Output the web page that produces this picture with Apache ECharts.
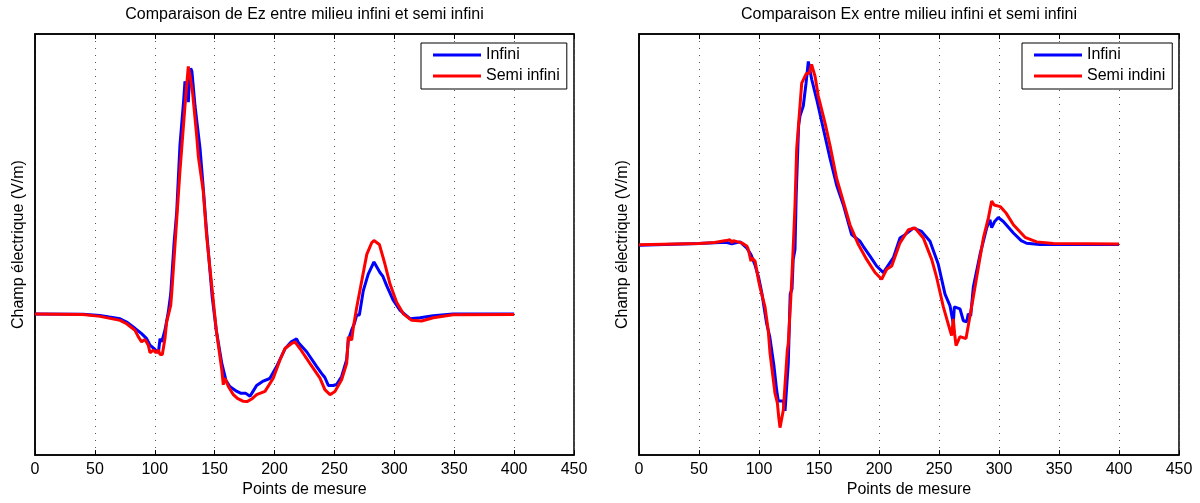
<!DOCTYPE html>
<html>
<head>
<meta charset="utf-8">
<script src="https://cdn.jsdelivr.net/npm/echarts@6/dist/echarts.min.js"></script>
<style>
html,body{margin:0;padding:0;background:#fff;}
#main{width:1200px;height:503px;}
</style>
</head>
<body>
<div id="main"></div>
<script>
// ---- Data (arbitrary units, no y tick labels in the original) ----
const xTicks = [0, 50, 100, 150, 200, 250, 300, 350, 400, 450];

const titleEz = 'Comparaison de Ez entre milieu infini et semi infini';
const titleEx = 'Comparaison Ex entre milieu infini et semi infini';
const xAxisName = 'Points de mesure';
const yAxisName = 'Champ électrique (V/m)';
const legendEz = ['Infini', 'Semi infini'];
const legendEx = ['Infini', 'Semi indini'];

// Ez, milieu infini
const ezInfiniX = [0,40,54,62,71,76.5,82,89,93.2,96,100.2,103,104.4,105.8,108.5,111.3,113.3,116,118.3,121,124.2,125.2,126.5,128,129,130,131,133.6,137.8,140.5,142.8,148,151.4,156,159.4,162.6,168.6,172,176,179.5,182,185,190,196,201.7,208.7,214,218.4,220,226.8,235.2,239.4,242,244.9,249,251.8,256,260.2,261.6,264.4,266.5,268.6,270.8,274.1,278.2,283,288,290.5,293.6,299.2,304.8,313.1,321.4,332.5,349,400];
const ezInfiniY = [0,-0.02,-0.13,-0.3,-0.47,-0.8,-1.3,-1.97,-2.47,-3.13,-3.57,-3.9,-2.47,-2.8,-1.63,0.2,2.03,7,10.3,17,21.7,23.5,23.6,21.4,23.8,24.8,24.5,21.0,16.7,12.7,9.0,1.67,-1.67,-5,-6.67,-7.3,-7.8,-8.0,-8.0,-8.3,-7.8,-7.2,-6.8,-6.5,-5.3,-3.5,-2.8,-2.5,-2.9,-3.8,-5.3,-6,-6.4,-7.2,-7.2,-7.1,-6.3,-4.6,-2.6,-1.6,-1.0,-0.1,-0.1,2.37,4.03,5.27,4.2,3.8,2.87,1.37,0.37,-0.47,-0.37,-0.17,0,0];

// Ez, milieu semi infini
const ezSemiX = [0,40,54.3,71,76.5,83.5,86.3,89,91.8,94.6,96,98.8,101,103,104.4,106.3,108.5,109.9,113.3,114.1,116.9,121,125.2,127.2,128,129.5,131.6,135,136.4,137.8,140.5,143.3,148,151.4,156,157.2,158.6,161.4,165.6,169,173.9,177,180.9,185,192,198.9,204.5,208.7,214.2,217,221.2,229.5,237.9,242,246.3,250.4,256,260.2,261.6,264.4,265.8,268.6,272.8,277,281.1,283,287.5,292.2,296.4,301.9,307.5,314.5,322.8,332.5,349,400];
const ezSemiY = [0,-0.03,-0.23,-0.63,-0.97,-1.63,-2.3,-2.8,-2.57,-3.13,-3.9,-3.63,-3.9,-3.63,-4.07,-4.07,-2.47,-0.8,0.87,2.03,7,14.4,21,23.9,25,24,22.3,18,15.87,15.7,12.37,7.87,2.33,-1.67,-5.67,-7.13,-6.47,-7.3,-8.13,-8.5,-8.8,-8.83,-8.57,-8.13,-7.8,-6.47,-4.63,-3.47,-2.97,-2.8,-3.47,-4.97,-6.47,-7.63,-8.13,-7.8,-6.63,-4.97,-2.3,-2.63,-1.3,0.7,3.37,6.03,7.2,7.43,7.03,5.03,3.03,1.2,0.03,-0.63,-0.7,-0.37,-0.07,-0.03];

// Ex, milieu infini
const exInfiniX = [0,50,63,72.5,77.3,78.5,84.2,89.7,93.3,96.5,99.7,102.2,103.6,106.4,109,112.5,114.7,116.1,120.3,121.7,124.4,126,127.5,128.5,130,131,133,134.2,136.9,139.2,141.1,143.9,148,153.6,159.2,164.7,170.3,177.2,184.2,187,192.5,198,203.6,207.8,212,217.5,221.7,228.6,235.5,242.5,249.4,255,259.2,261.9,262.8,264.2,267.5,270.3,273.1,274.4,276.4,278.6,284.2,289.7,292.5,293.9,296.2,299.4,303.6,312,318.5,323,334,400];
const exInfiniY = [-0.07,0.1,0.17,0.23,0.07,0.25,0.27,-0.33,-1,-2,-3.33,-4.8,-5.0,-8,-9.33,-12.3,-14.7,-15.8,-15.8,-16.8,-12,-5,-4.5,-1.5,-0.5,5,12,13,14,16.3,18.5,16.7,14.7,11.7,8.7,6,4,1,0.33,-0.2,-1.17,-2.17,-2.83,-2.07,-1.33,0.67,1.0,1.67,1.33,0.33,-2,-5,-6.2,-8,-6.3,-6.3,-6.5,-7.7,-7.8,-7,-7.2,-4.3,-1,1.67,2.5,1.7,2.3,2.73,2.33,1.17,0.4,0.13,0,0];

// Ex, milieu semi infini
const exSemiX = [0,50,63,72.5,75.8,77.3,78.5,85.6,90,91.1,93.3,93.9,96.7,99.7,100.8,105,107.7,109.2,113.3,115.3,116.5,117.5,118.2,120.3,123.6,124.4,127,128.8,130,131.4,133.2,135.6,138.3,139.7,141.9,143.8,144.7,146.7,149.4,155,159.2,164.7,170.3,175.8,182.8,189.7,196.7,198,202.2,206.4,210.6,217.5,224.5,230,236.9,243.9,248,253.6,259.2,260.5,261.9,263,264.2,267.5,272.5,274.4,278.6,282.8,287,291.1,293.9,296,301,303.6,305.8,312,321.7,331.4,345.3,400];
const exSemiY = [-0.03,0.1,0.2,0.4,0.5,0.17,0.4,0.17,-0.17,-0.5,-1.67,-1.33,-1.67,-3.67,-4.3,-6.3,-8.67,-11,-15,-16,-17.5,-18.5,-18.67,-16.7,-10.67,-10,-4.3,0.5,4,9.67,12.5,16.3,17,17.3,17.3,18.2,18.3,17,15,12.3,10,6.67,4.33,2,0,-1.5,-2.83,-3,-3.5,-2.5,-2.17,0.17,1.5,1.67,0.67,-1.5,-3.3,-6.3,-8.67,-9.2,-7.5,-9.0,-10.2,-9.3,-9.5,-8.2,-5.3,-2.3,0.67,2.67,4.4,4.0,3.83,3.5,3.2,2,0.73,0.27,0.1,0.05];

const ezRange = [-14.23, 28.27];
const exRange = [-21.27, 21.27];

// ---- Build option ----
const FONT = 'Arial, "Liberation Sans", Helvetica, sans-serif';
const zip = (xs, ys) => xs.map((x, i) => [x, ys[i]]);

const gridBox = [
  {left: 35, top: 34, width: 539, height: 425},
  {left: 639, top: 34, width: 540, height: 425}
];

function bottomX(gi) {
  return {
    type: 'value', gridIndex: gi, position: 'bottom',
    min: xTicks[0], max: xTicks[xTicks.length - 1], interval: 50,
    axisLine: {show: true, onZero: false, lineStyle: {color: '#000', width: 1.5}},
    axisTick: {show: true, inside: true, length: 5, lineStyle: {color: '#000'}},
    axisLabel: {show: true, color: '#000', fontSize: 16, fontFamily: FONT, margin: 6},
    splitLine: {show: true, lineStyle: {color: '#555', type: [1, 6], width: 1}},
    name: xAxisName, nameLocation: 'middle', nameGap: 25,
    nameTextStyle: {color: '#000', fontSize: 16, fontFamily: FONT}
  };
}
function topX(gi) {
  return {
    type: 'value', gridIndex: gi, position: 'top',
    min: xTicks[0], max: xTicks[xTicks.length - 1], interval: 50,
    axisLine: {show: true, onZero: false, lineStyle: {color: '#000', width: 1.5}},
    axisTick: {show: true, inside: true, length: 5, lineStyle: {color: '#000'}},
    axisLabel: {show: false}, splitLine: {show: false}
  };
}
function yAx(gi, range) {
  return {
    type: 'value', gridIndex: gi, min: range[0], max: range[1],
    axisLine: {show: true, onZero: false, lineStyle: {color: '#000', width: 1.5}},
    axisTick: {show: false}, axisLabel: {show: false}, splitLine: {show: false},
    name: yAxisName, nameLocation: 'middle', nameGap: 8,
    nameTextStyle: {color: '#000', fontSize: 16, fontFamily: FONT}
  };
}
function legendBox(names, left) {
  return {
    data: names, orient: 'vertical', left: left, top: 43,
    icon: 'rect', itemWidth: 48, itemHeight: 3, itemGap: 3,
    padding: [3, 7, 4, 12],
    borderColor: '#000', borderWidth: 1, backgroundColor: '#fff',
    selectedMode: false,
    textStyle: {color: '#000', fontSize: 16, fontFamily: FONT, lineHeight: 18}
  };
}
function line(name, data, color, xi, yi) {
  return {
    type: 'line', name: name, data: data, xAxisIndex: xi, yAxisIndex: yi,
    showSymbol: false, symbol: 'none', smooth: false, animation: false,
    lineStyle: {color: color, width: 3}, itemStyle: {color: color}
  };
}

const option = {
  backgroundColor: '#fff',
  animation: false,
  title: [
    {text: titleEz, left: 304.5, top: 7, textAlign: 'center', padding: 0,
     textStyle: {color: '#000', fontSize: 16, fontWeight: 'normal', fontFamily: FONT}},
    {text: titleEx, left: 909, top: 7, textAlign: 'center', padding: 0,
     textStyle: {color: '#000', fontSize: 16, fontWeight: 'normal', fontFamily: FONT}}
  ],
  legend: [legendBox(legendEz, 421), legendBox(legendEx, 1022)],
  grid: gridBox.map(g => Object.assign({show: true, borderColor: '#000', borderWidth: 1.5, backgroundColor: '#fff'}, g)),
  xAxis: [bottomX(0), bottomX(1), topX(0), topX(1)],
  yAxis: [yAx(0, ezRange), yAx(1, exRange)],
  series: [
    line(legendEz[0], zip(ezInfiniX, ezInfiniY), '#0000ff', 0, 0),
    line(legendEz[1], zip(ezSemiX, ezSemiY), '#ff0000', 0, 0),
    line(legendEx[0], zip(exInfiniX, exInfiniY), '#0000ff', 1, 1),
    line(legendEx[1], zip(exSemiX, exSemiY), '#ff0000', 1, 1)
  ]
};

const chart = echarts.init(document.getElementById('main'), null, {renderer: 'canvas'});
chart.setOption(option);
</script>
</body>
</html>
